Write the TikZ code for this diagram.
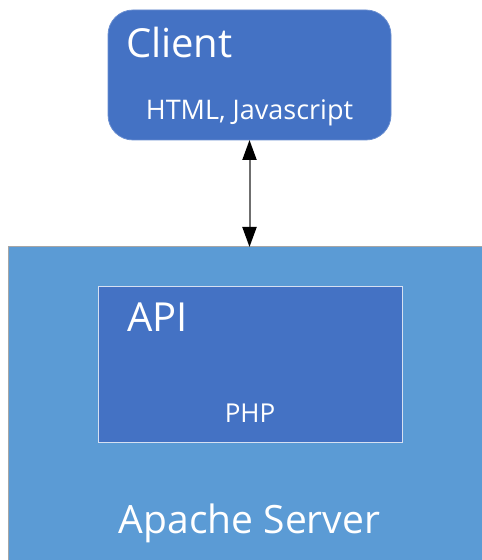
\documentclass[tikz,border=0pt]{standalone}
\usepackage{fontspec}
\setmainfont{Open Sans}
\usetikzlibrary{arrows.meta}
\definecolor{darkblue}{HTML}{4472C4}
\definecolor{lightblue}{HTML}{5B9BD5}
\definecolor{boxline}{HTML}{A6A6A6}
\definecolor{apiline}{HTML}{D6E0F2}
\definecolor{arrowgray}{HTML}{6F6F6F}
\begin{document}
\begin{tikzpicture}[x=1pt,y=1pt,
  lbl/.style={text=white,inner sep=0pt,outer sep=0pt},
  box/.style={inner sep=0pt,outer sep=0pt,anchor=south west}]
\useasboundingbox (0,0) rectangle (482,560);
\clip (0,0) rectangle (482,560);
% Apache server
\node[box,draw=boxline,line width=1pt,fill=lightblue,minimum width=490pt,minimum height=323pt] (apache) at (8,-10) {};
% Client
\node[box,draw=darkblue!80!white,line width=0.8pt,fill=darkblue,rounded corners=25pt,minimum width=283pt,minimum height=130pt] (client) at (108,420) {};
% API
\node[box,draw=apiline,line width=1pt,fill=darkblue,minimum width=304pt,minimum height=156pt] (api) at (98,117) {};
% texts
\node[lbl,anchor=base west,font=\fontsize{40}{46}\selectfont] (clienttxt) at (126,502) {Client};
\node[lbl,anchor=base,font=\fontsize{27}{30}\selectfont] (clientsub) at (249.5,440) {HTML, Javascript};
\node[lbl,anchor=base west,font=\fontsize{40}{46}\selectfont] (apitxt) at (127,228) {API};
\node[lbl,anchor=base,font=\fontsize{26}{30}\selectfont] (phptxt) at (250,137) {PHP};
\node[lbl,anchor=base,font=\fontsize{39}{44}\selectfont] (apachetxt) at (249.5,27) {Apache Server};
% arrow
\coordinate (atop) at (249.5,313);
\draw[draw=arrowgray,line width=2pt,{Triangle[length=20pt,width=14pt,black]}-{Triangle[length=20pt,width=14pt,black]}] (client.south) -- (atop);
\end{tikzpicture}
\end{document}
